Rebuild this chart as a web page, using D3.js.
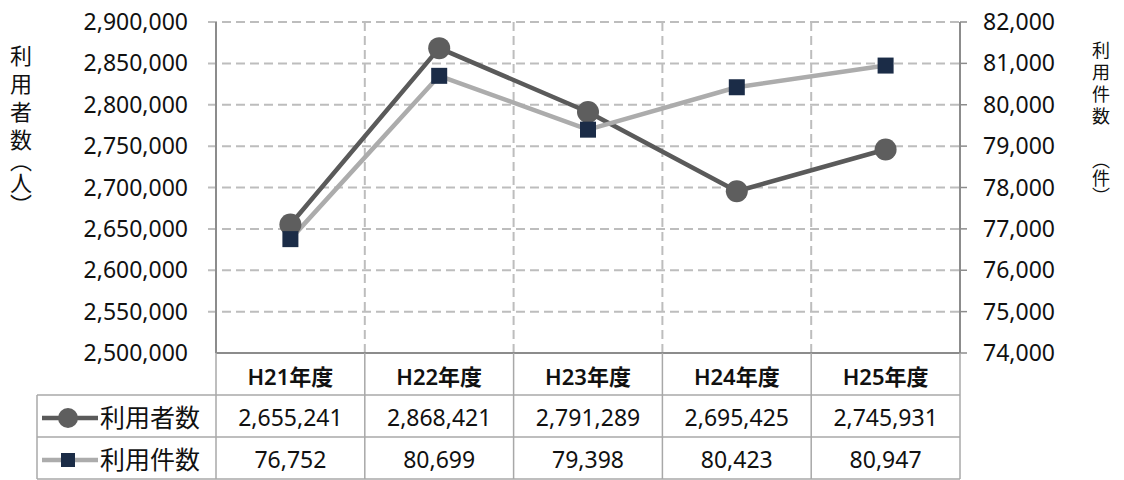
<!DOCTYPE html>
<html>
<head>
<meta charset="utf-8">
<script src="https://cdn.jsdelivr.net/npm/d3@7"></script>
<style>
  body { margin: 0; background: #fff; }
  text { font-family: "Noto Sans", "Noto Sans CJK JP", sans-serif; fill: #111; }
  .vt { font-family: "Noto Sans CJK JP", sans-serif; writing-mode: vertical-rl; }
</style>
</head>
<body>
<script>
// データ
var categories = ["H21年度", "H22年度", "H23年度", "H24年度", "H25年度"];
var users = [2655241, 2868421, 2791289, 2695425, 2745931];   // 利用者数（人）
var cases = [76752, 80699, 79398, 80423, 80947];             // 利用件数（件）
var seriesNames = ["利用者数", "利用件数"];
var leftTicks = [2500000, 2550000, 2600000, 2650000, 2700000, 2750000, 2800000, 2850000, 2900000];
var rightTicks = [74000, 75000, 76000, 77000, 78000, 79000, 80000, 81000, 82000];

var width = 1124, height = 480;
var plotLeft = 216, plotRight = 960, plotTop = 22, plotBottom = 353;
var rowH = 42;

var svg = d3.select("body").append("svg")
  .attr("width", width)
  .attr("height", height);

var x = d3.scaleBand().domain(categories).range([plotLeft, plotRight]);
var yL = d3.scaleLinear().domain([2500000, 2900000]).range([plotBottom, plotTop]);
var yR = d3.scaleLinear().domain([74000, 82000]).range([plotBottom, plotTop]);
var fmt = d3.format(",");
var cx = function(d) { return x(d) + x.bandwidth() / 2; };

var grid = "#bdbdbd", axisCol = "#8c8c8c";

// 横グリッド
svg.append("g").selectAll("line").data(leftTicks.slice(1)).join("line")
  .attr("x1", plotLeft - 8).attr("x2", plotRight)
  .attr("y1", d => yL(d)).attr("y2", d => yL(d))
  .attr("stroke", grid).attr("stroke-width", 2).attr("stroke-dasharray", "9,5");

// 縦グリッド（カテゴリ境界）
svg.append("g").selectAll("line").data(categories.slice(1)).join("line")
  .attr("x1", d => x(d)).attr("x2", d => x(d))
  .attr("y1", plotTop).attr("y2", plotBottom)
  .attr("stroke", grid).attr("stroke-width", 2).attr("stroke-dasharray", "9,5");

// 軸線
svg.append("line").attr("x1", plotLeft).attr("x2", plotLeft).attr("y1", plotTop).attr("y2", plotBottom)
  .attr("stroke", axisCol).attr("stroke-width", 2);
svg.append("line").attr("x1", plotRight).attr("x2", plotRight).attr("y1", plotTop).attr("y2", plotBottom)
  .attr("stroke", axisCol).attr("stroke-width", 2);
svg.append("g").selectAll("line").data(rightTicks).join("line")
  .attr("x1", plotRight).attr("x2", plotRight + 7)
  .attr("y1", d => yR(d)).attr("y2", d => yR(d))
  .attr("stroke", axisCol).attr("stroke-width", 1.5);

// 目盛ラベル
svg.append("g").selectAll("text").data(leftTicks).join("text")
  .attr("x", 188).attr("y", d => yL(d)).attr("dy", "0.35em")
  .attr("text-anchor", "end").attr("font-size", 23)
  .text(d => fmt(d));
svg.append("g").selectAll("text").data(rightTicks).join("text")
  .attr("x", 983).attr("y", d => yR(d)).attr("dy", "0.35em")
  .attr("font-size", 23)
  .text(d => fmt(d));

// 軸タイトル（縦書き）
function vTitle(chars, xc, y0, pitch, unit, unitY, size) {
  var g = svg.append("g").attr("font-size", size).attr("text-anchor", "middle");
  chars.forEach(function(c, i) {
    g.append("text").attr("x", xc).attr("y", y0 + i * pitch).attr("dy", "0.35em").text(c);
  });
  g.append("text").attr("class", "vt").attr("text-anchor", "start")
    .attr("x", xc).attr("y", unitY)
    .text("（" + unit + "）");
}
vTitle(["利", "用", "者", "数"], 21, 56, 28, "人", 150, 22);
vTitle(["利", "用", "件", "数"], 1101, 51, 22, "件", 151, 18);

// 系列
var s1 = { vals: users, y: yL, line: "#5a5a5a" };
var s2 = { vals: cases, y: yR, line: "#acacac" };

[s1, s2].forEach(function(s) {
  var line = d3.line().x((d, i) => cx(categories[i])).y(d => s.y(d));
  svg.append("path").datum(s.vals)
    .attr("d", line).attr("fill", "none")
    .attr("stroke", s.line).attr("stroke-width", 4.5).attr("stroke-linejoin", "round");
});

svg.append("g").selectAll("circle").data(users).join("circle")
  .attr("cx", (d, i) => cx(categories[i])).attr("cy", d => yL(d))
  .attr("r", 11).attr("fill", "#5e5e5e");

svg.append("g").selectAll("rect").data(cases).join("rect")
  .attr("x", (d, i) => cx(categories[i]) - 8).attr("y", d => yR(d) - 8)
  .attr("width", 16).attr("height", 16).attr("fill", "#1b2c47");

// データテーブル
var tb = svg.append("g");
var tableBottom = plotBottom + rowH * 3;
tb.append("line").attr("x1", plotLeft).attr("x2", plotRight).attr("y1", plotBottom).attr("y2", plotBottom)
  .attr("stroke", axisCol).attr("stroke-width", 2);
[1, 2, 3].forEach(function(r) {
  tb.append("line").attr("x1", 37).attr("x2", plotRight)
    .attr("y1", plotBottom + r * rowH).attr("y2", plotBottom + r * rowH)
    .attr("stroke", "#a8a8a8").attr("stroke-width", 1.5);
});
tb.selectAll(".vl").data(categories.concat(["end"])).join("line")
  .attr("x1", d => d === "end" ? plotRight : x(d)).attr("x2", d => d === "end" ? plotRight : x(d))
  .attr("y1", plotBottom).attr("y2", tableBottom)
  .attr("stroke", "#a8a8a8").attr("stroke-width", 1.5);
tb.append("line").attr("x1", 37).attr("x2", 37).attr("y1", plotBottom + rowH).attr("y2", tableBottom)
  .attr("stroke", "#a8a8a8").attr("stroke-width", 1.5);

tb.selectAll(".cat").data(categories).join("text")
  .attr("x", d => cx(d)).attr("y", plotBottom + rowH / 2 + 3).attr("dy", "0.35em")
  .attr("text-anchor", "middle").attr("font-size", 22).attr("font-weight", 600)
  .text(d => d);

[users, cases].forEach(function(vals, r) {
  var yy = plotBottom + rowH * (r + 1) + rowH / 2 + 2;
  tb.append("g").selectAll("text").data(vals).join("text")
    .attr("x", (d, i) => cx(categories[i])).attr("y", yy).attr("dy", "0.35em")
    .attr("text-anchor", "middle").attr("font-size", 23)
    .text(d => fmt(d));
  tb.append("text").attr("x", 100).attr("y", yy).attr("dy", "0.35em")
    .attr("font-size", 25).text(seriesNames[r]);
  tb.append("line").attr("x1", 42).attr("x2", 98).attr("y1", yy).attr("y2", yy)
    .attr("stroke", r === 0 ? "#5a5a5a" : "#acacac").attr("stroke-width", 4.5);
});
var ly1 = plotBottom + rowH * 1.5 + 2, ly2 = plotBottom + rowH * 2.5 + 2;
tb.append("circle").attr("cx", 68).attr("cy", ly1).attr("r", 10).attr("fill", "#5e5e5e");
tb.append("rect").attr("x", 61).attr("y", ly2 - 7).attr("width", 14).attr("height", 14).attr("fill", "#1b2c47");
</script>
</body>
</html>
